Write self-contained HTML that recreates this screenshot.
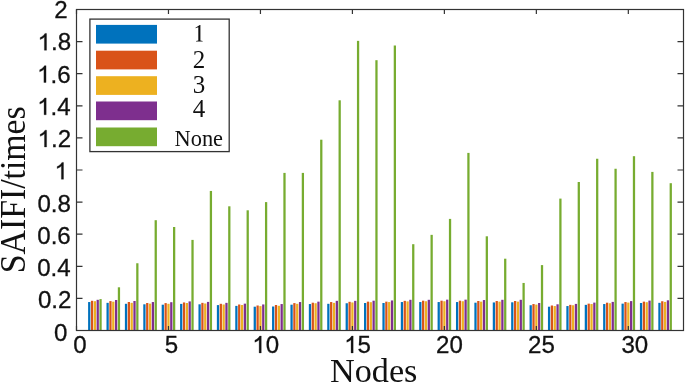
<!DOCTYPE html>
<html><head><meta charset="utf-8"><style>
html,body{margin:0;padding:0;background:#fff;}
body{width:685px;height:384px;overflow:hidden;}
svg{display:block;will-change:transform;}
.sans{font-family:"Liberation Sans",sans-serif;font-size:24.1px;fill:#111;stroke:#111;stroke-width:0.3px;}
.sans path{stroke-width:25.49px;}
.serif{font-family:"Liberation Serif",serif;fill:#111;}
</style></head><body>
<svg width="685" height="384" viewBox="0 0 685 384">
<rect x="0" y="0" width="685" height="384" fill="#fff"/>
<g>
<rect x="88.102" y="302.05" width="2.264" height="28.45" fill="#0072BD"/>
<rect x="90.932" y="300.80" width="2.264" height="29.70" fill="#D95319"/>
<rect x="93.762" y="301.20" width="2.264" height="29.30" fill="#EDB120"/>
<rect x="96.592" y="299.80" width="2.264" height="30.70" fill="#7E2F8E"/>
<rect x="99.422" y="299.10" width="2.264" height="31.40" fill="#77AC30"/>
<rect x="106.496" y="302.85" width="2.264" height="27.65" fill="#0072BD"/>
<rect x="109.326" y="301.10" width="2.264" height="29.40" fill="#D95319"/>
<rect x="112.156" y="301.70" width="2.264" height="28.80" fill="#EDB120"/>
<rect x="114.986" y="300.00" width="2.264" height="30.50" fill="#7E2F8E"/>
<rect x="117.816" y="287.30" width="2.264" height="43.20" fill="#77AC30"/>
<rect x="124.890" y="303.80" width="2.264" height="26.70" fill="#0072BD"/>
<rect x="127.720" y="302.00" width="2.264" height="28.50" fill="#D95319"/>
<rect x="130.550" y="302.85" width="2.264" height="27.65" fill="#EDB120"/>
<rect x="133.380" y="301.00" width="2.264" height="29.50" fill="#7E2F8E"/>
<rect x="136.210" y="263.25" width="2.264" height="67.25" fill="#77AC30"/>
<rect x="143.284" y="304.30" width="2.264" height="26.20" fill="#0072BD"/>
<rect x="146.114" y="303.00" width="2.264" height="27.50" fill="#D95319"/>
<rect x="148.944" y="303.65" width="2.264" height="26.85" fill="#EDB120"/>
<rect x="151.774" y="302.05" width="2.264" height="28.45" fill="#7E2F8E"/>
<rect x="154.603" y="220.20" width="2.264" height="110.30" fill="#77AC30"/>
<rect x="161.678" y="304.70" width="2.264" height="25.80" fill="#0072BD"/>
<rect x="164.508" y="303.10" width="2.264" height="27.40" fill="#D95319"/>
<rect x="167.338" y="303.80" width="2.264" height="26.70" fill="#EDB120"/>
<rect x="170.168" y="302.20" width="2.264" height="28.30" fill="#7E2F8E"/>
<rect x="172.997" y="227.00" width="2.264" height="103.50" fill="#77AC30"/>
<rect x="180.072" y="303.90" width="2.264" height="26.60" fill="#0072BD"/>
<rect x="182.902" y="302.45" width="2.264" height="28.05" fill="#D95319"/>
<rect x="185.732" y="303.00" width="2.264" height="27.50" fill="#EDB120"/>
<rect x="188.562" y="301.40" width="2.264" height="29.10" fill="#7E2F8E"/>
<rect x="191.391" y="239.90" width="2.264" height="90.60" fill="#77AC30"/>
<rect x="198.466" y="304.30" width="2.264" height="26.20" fill="#0072BD"/>
<rect x="201.296" y="302.85" width="2.264" height="27.65" fill="#D95319"/>
<rect x="204.126" y="303.50" width="2.264" height="27.00" fill="#EDB120"/>
<rect x="206.955" y="301.90" width="2.264" height="28.60" fill="#7E2F8E"/>
<rect x="209.785" y="190.95" width="2.264" height="139.55" fill="#77AC30"/>
<rect x="216.860" y="305.10" width="2.264" height="25.40" fill="#0072BD"/>
<rect x="219.690" y="303.80" width="2.264" height="26.70" fill="#D95319"/>
<rect x="222.520" y="304.50" width="2.264" height="26.00" fill="#EDB120"/>
<rect x="225.349" y="302.85" width="2.264" height="27.65" fill="#7E2F8E"/>
<rect x="228.179" y="206.30" width="2.264" height="124.20" fill="#77AC30"/>
<rect x="235.254" y="305.90" width="2.264" height="24.60" fill="#0072BD"/>
<rect x="238.084" y="304.50" width="2.264" height="26.00" fill="#D95319"/>
<rect x="240.914" y="305.00" width="2.264" height="25.50" fill="#EDB120"/>
<rect x="243.743" y="303.65" width="2.264" height="26.85" fill="#7E2F8E"/>
<rect x="246.573" y="210.30" width="2.264" height="120.20" fill="#77AC30"/>
<rect x="253.648" y="306.70" width="2.264" height="23.80" fill="#0072BD"/>
<rect x="256.478" y="305.50" width="2.264" height="25.00" fill="#D95319"/>
<rect x="259.307" y="306.10" width="2.264" height="24.40" fill="#EDB120"/>
<rect x="262.137" y="304.45" width="2.264" height="26.05" fill="#7E2F8E"/>
<rect x="264.967" y="202.10" width="2.264" height="128.40" fill="#77AC30"/>
<rect x="272.042" y="306.50" width="2.264" height="24.00" fill="#0072BD"/>
<rect x="274.872" y="305.00" width="2.264" height="25.50" fill="#D95319"/>
<rect x="277.701" y="305.80" width="2.264" height="24.70" fill="#EDB120"/>
<rect x="280.531" y="304.05" width="2.264" height="26.45" fill="#7E2F8E"/>
<rect x="283.361" y="172.90" width="2.264" height="157.60" fill="#77AC30"/>
<rect x="290.436" y="304.70" width="2.264" height="25.80" fill="#0072BD"/>
<rect x="293.266" y="303.10" width="2.264" height="27.40" fill="#D95319"/>
<rect x="296.095" y="303.80" width="2.264" height="26.70" fill="#EDB120"/>
<rect x="298.925" y="302.05" width="2.264" height="28.45" fill="#7E2F8E"/>
<rect x="301.755" y="172.90" width="2.264" height="157.60" fill="#77AC30"/>
<rect x="308.830" y="304.05" width="2.264" height="26.45" fill="#0072BD"/>
<rect x="311.659" y="302.70" width="2.264" height="27.80" fill="#D95319"/>
<rect x="314.489" y="303.25" width="2.264" height="27.25" fill="#EDB120"/>
<rect x="317.319" y="301.65" width="2.264" height="28.85" fill="#7E2F8E"/>
<rect x="320.149" y="139.70" width="2.264" height="190.80" fill="#77AC30"/>
<rect x="327.224" y="303.80" width="2.264" height="26.70" fill="#0072BD"/>
<rect x="330.053" y="302.05" width="2.264" height="28.45" fill="#D95319"/>
<rect x="332.883" y="302.85" width="2.264" height="27.65" fill="#EDB120"/>
<rect x="335.713" y="300.85" width="2.264" height="29.65" fill="#7E2F8E"/>
<rect x="338.543" y="100.30" width="2.264" height="230.20" fill="#77AC30"/>
<rect x="345.617" y="303.25" width="2.264" height="27.25" fill="#0072BD"/>
<rect x="348.447" y="301.80" width="2.264" height="28.70" fill="#D95319"/>
<rect x="351.277" y="302.45" width="2.264" height="28.05" fill="#EDB120"/>
<rect x="354.107" y="300.85" width="2.264" height="29.65" fill="#7E2F8E"/>
<rect x="356.937" y="40.86" width="2.264" height="289.64" fill="#77AC30"/>
<rect x="364.011" y="303.00" width="2.264" height="27.50" fill="#0072BD"/>
<rect x="366.841" y="301.65" width="2.264" height="28.85" fill="#D95319"/>
<rect x="369.671" y="302.20" width="2.264" height="28.30" fill="#EDB120"/>
<rect x="372.501" y="300.70" width="2.264" height="29.80" fill="#7E2F8E"/>
<rect x="375.331" y="60.20" width="2.264" height="270.30" fill="#77AC30"/>
<rect x="382.405" y="303.00" width="2.264" height="27.50" fill="#0072BD"/>
<rect x="385.235" y="301.65" width="2.264" height="28.85" fill="#D95319"/>
<rect x="388.065" y="302.05" width="2.264" height="28.45" fill="#EDB120"/>
<rect x="390.895" y="300.45" width="2.264" height="30.05" fill="#7E2F8E"/>
<rect x="393.725" y="45.50" width="2.264" height="285.00" fill="#77AC30"/>
<rect x="400.799" y="302.05" width="2.264" height="28.45" fill="#0072BD"/>
<rect x="403.629" y="300.85" width="2.264" height="29.65" fill="#D95319"/>
<rect x="406.459" y="301.40" width="2.264" height="29.10" fill="#EDB120"/>
<rect x="409.289" y="299.80" width="2.264" height="30.70" fill="#7E2F8E"/>
<rect x="412.119" y="244.20" width="2.264" height="86.30" fill="#77AC30"/>
<rect x="419.193" y="302.05" width="2.264" height="28.45" fill="#0072BD"/>
<rect x="422.023" y="300.70" width="2.264" height="29.80" fill="#D95319"/>
<rect x="424.853" y="301.25" width="2.264" height="29.25" fill="#EDB120"/>
<rect x="427.683" y="299.80" width="2.264" height="30.70" fill="#7E2F8E"/>
<rect x="430.513" y="234.85" width="2.264" height="95.65" fill="#77AC30"/>
<rect x="437.587" y="302.05" width="2.264" height="28.45" fill="#0072BD"/>
<rect x="440.417" y="300.70" width="2.264" height="29.80" fill="#D95319"/>
<rect x="443.247" y="301.25" width="2.264" height="29.25" fill="#EDB120"/>
<rect x="446.077" y="299.65" width="2.264" height="30.85" fill="#7E2F8E"/>
<rect x="448.907" y="218.90" width="2.264" height="111.60" fill="#77AC30"/>
<rect x="455.981" y="302.05" width="2.264" height="28.45" fill="#0072BD"/>
<rect x="458.811" y="300.70" width="2.264" height="29.80" fill="#D95319"/>
<rect x="461.641" y="301.25" width="2.264" height="29.25" fill="#EDB120"/>
<rect x="464.471" y="299.65" width="2.264" height="30.85" fill="#7E2F8E"/>
<rect x="467.300" y="152.90" width="2.264" height="177.60" fill="#77AC30"/>
<rect x="474.375" y="302.70" width="2.264" height="27.80" fill="#0072BD"/>
<rect x="477.205" y="301.00" width="2.264" height="29.50" fill="#D95319"/>
<rect x="480.035" y="301.65" width="2.264" height="28.85" fill="#EDB120"/>
<rect x="482.865" y="300.05" width="2.264" height="30.45" fill="#7E2F8E"/>
<rect x="485.694" y="236.30" width="2.264" height="94.20" fill="#77AC30"/>
<rect x="492.769" y="302.45" width="2.264" height="28.05" fill="#0072BD"/>
<rect x="495.599" y="301.00" width="2.264" height="29.50" fill="#D95319"/>
<rect x="498.429" y="301.65" width="2.264" height="28.85" fill="#EDB120"/>
<rect x="501.259" y="299.80" width="2.264" height="30.70" fill="#7E2F8E"/>
<rect x="504.088" y="258.70" width="2.264" height="71.80" fill="#77AC30"/>
<rect x="511.163" y="302.30" width="2.264" height="28.20" fill="#0072BD"/>
<rect x="513.993" y="301.00" width="2.264" height="29.50" fill="#D95319"/>
<rect x="516.823" y="301.65" width="2.264" height="28.85" fill="#EDB120"/>
<rect x="519.652" y="299.80" width="2.264" height="30.70" fill="#7E2F8E"/>
<rect x="522.482" y="282.95" width="2.264" height="47.55" fill="#77AC30"/>
<rect x="529.557" y="305.25" width="2.264" height="25.25" fill="#0072BD"/>
<rect x="532.387" y="304.05" width="2.264" height="26.45" fill="#D95319"/>
<rect x="535.217" y="304.60" width="2.264" height="25.90" fill="#EDB120"/>
<rect x="538.046" y="303.00" width="2.264" height="27.50" fill="#7E2F8E"/>
<rect x="540.876" y="265.10" width="2.264" height="65.40" fill="#77AC30"/>
<rect x="547.951" y="306.70" width="2.264" height="23.80" fill="#0072BD"/>
<rect x="550.781" y="305.50" width="2.264" height="25.00" fill="#D95319"/>
<rect x="553.610" y="306.05" width="2.264" height="24.45" fill="#EDB120"/>
<rect x="556.440" y="304.30" width="2.264" height="26.20" fill="#7E2F8E"/>
<rect x="559.270" y="198.60" width="2.264" height="131.90" fill="#77AC30"/>
<rect x="566.345" y="306.05" width="2.264" height="24.45" fill="#0072BD"/>
<rect x="569.175" y="304.85" width="2.264" height="25.65" fill="#D95319"/>
<rect x="572.004" y="305.25" width="2.264" height="25.25" fill="#EDB120"/>
<rect x="574.834" y="303.90" width="2.264" height="26.60" fill="#7E2F8E"/>
<rect x="577.664" y="182.00" width="2.264" height="148.50" fill="#77AC30"/>
<rect x="584.739" y="304.85" width="2.264" height="25.65" fill="#0072BD"/>
<rect x="587.569" y="303.65" width="2.264" height="26.85" fill="#D95319"/>
<rect x="590.398" y="304.05" width="2.264" height="26.45" fill="#EDB120"/>
<rect x="593.228" y="302.60" width="2.264" height="27.90" fill="#7E2F8E"/>
<rect x="596.058" y="158.75" width="2.264" height="171.75" fill="#77AC30"/>
<rect x="603.133" y="304.05" width="2.264" height="26.45" fill="#0072BD"/>
<rect x="605.962" y="302.70" width="2.264" height="27.80" fill="#D95319"/>
<rect x="608.792" y="303.25" width="2.264" height="27.25" fill="#EDB120"/>
<rect x="611.622" y="301.90" width="2.264" height="28.60" fill="#7E2F8E"/>
<rect x="614.452" y="168.75" width="2.264" height="161.75" fill="#77AC30"/>
<rect x="621.527" y="303.65" width="2.264" height="26.85" fill="#0072BD"/>
<rect x="624.356" y="302.05" width="2.264" height="28.45" fill="#D95319"/>
<rect x="627.186" y="302.60" width="2.264" height="27.90" fill="#EDB120"/>
<rect x="630.016" y="301.10" width="2.264" height="29.40" fill="#7E2F8E"/>
<rect x="632.846" y="156.20" width="2.264" height="174.30" fill="#77AC30"/>
<rect x="639.921" y="303.00" width="2.264" height="27.50" fill="#0072BD"/>
<rect x="642.750" y="301.65" width="2.264" height="28.85" fill="#D95319"/>
<rect x="645.580" y="302.20" width="2.264" height="28.30" fill="#EDB120"/>
<rect x="648.410" y="300.60" width="2.264" height="29.90" fill="#7E2F8E"/>
<rect x="651.240" y="171.90" width="2.264" height="158.60" fill="#77AC30"/>
<rect x="658.314" y="302.85" width="2.264" height="27.65" fill="#0072BD"/>
<rect x="661.144" y="301.25" width="2.264" height="29.25" fill="#D95319"/>
<rect x="663.974" y="301.90" width="2.264" height="28.60" fill="#EDB120"/>
<rect x="666.804" y="300.30" width="2.264" height="30.20" fill="#7E2F8E"/>
<rect x="669.634" y="183.20" width="2.264" height="147.30" fill="#77AC30"/>
</g>
<g stroke="#333" stroke-width="1.2" fill="none">
<path d="M76.5 330.50H82.5M677.5 330.50H683.5M76.5 298.40H82.5M677.5 298.40H683.5M76.5 266.30H82.5M677.5 266.30H683.5M76.5 234.20H82.5M677.5 234.20H683.5M76.5 202.10H82.5M677.5 202.10H683.5M76.5 170.00H82.5M677.5 170.00H683.5M76.5 137.90H82.5M677.5 137.90H683.5M76.5 105.80H82.5M677.5 105.80H683.5M76.5 73.70H82.5M677.5 73.70H683.5M76.5 41.60H82.5M677.5 41.60H683.5M76.5 9.50H82.5M677.5 9.50H683.5M76.50 330.5V326M76.50 9.5V14M168.47 330.5V326M168.47 9.5V14M260.44 330.5V326M260.44 9.5V14M352.41 330.5V326M352.41 9.5V14M444.38 330.5V326M444.38 9.5V14M536.35 330.5V326M536.35 9.5V14M628.32 330.5V326M628.32 9.5V14"/>
<rect x="76.5" y="9.5" width="607" height="321"/>
</g>
<g class="sans">
<text x="54.309" y="18.0">2</text>
<path transform="translate(37.545 50.25) scale(0.011768 -0.011768)" d="M763 0L583 0L583 1119C540 1079 483 1039 413 999C343 959 280 929 223 908L223 1078C320 1123 404 1176 476 1240C548 1303 599 1366 629 1430L763 1430Z"/>
<text x="50.948" y="50.25">.</text>
<text x="57.644" y="50.25">8</text>
<path transform="translate(37.057 82.5) scale(0.011768 -0.011768)" d="M763 0L583 0L583 1119C540 1079 483 1039 413 999C343 959 280 929 223 908L223 1078C320 1123 404 1176 476 1240C548 1303 599 1366 629 1430L763 1430Z"/>
<text x="50.460" y="82.5">.</text>
<text x="57.156" y="82.5">6</text>
<path transform="translate(37.204 114.75) scale(0.011768 -0.011768)" d="M763 0L583 0L583 1119C540 1079 483 1039 413 999C343 959 280 929 223 908L223 1078C320 1123 404 1176 476 1240C548 1303 599 1366 629 1430L763 1430Z"/>
<text x="50.607" y="114.75">.</text>
<text x="57.303" y="114.75">4</text>
<path transform="translate(37.610 147.0) scale(0.011768 -0.011768)" d="M763 0L583 0L583 1119C540 1079 483 1039 413 999C343 959 280 929 223 908L223 1078C320 1123 404 1176 476 1240C548 1303 599 1366 629 1430L763 1430Z"/>
<text x="51.013" y="147.0">.</text>
<text x="57.709" y="147.0">2</text>
<path transform="translate(54.521 179.25) scale(0.011768 -0.011768)" d="M763 0L583 0L583 1119C540 1079 483 1039 413 999C343 959 280 929 223 908L223 1078C320 1123 404 1176 476 1240C548 1303 599 1366 629 1430L763 1430Z"/>
<text x="37.445" y="211.5">0</text>
<text x="50.848" y="211.5">.</text>
<text x="57.544" y="211.5">8</text>
<text x="37.257" y="243.75">0</text>
<text x="50.660" y="243.75">.</text>
<text x="57.356" y="243.75">6</text>
<text x="37.204" y="276.0">0</text>
<text x="50.607" y="276.0">.</text>
<text x="57.303" y="276.0">4</text>
<text x="37.910" y="308.25">0</text>
<text x="51.313" y="308.25">.</text>
<text x="58.009" y="308.25">2</text>
<text x="53.938" y="340.5">0</text>
<text x="73.148" y="352.9">0</text>
<text x="164.722" y="352.9">5</text>
<path transform="translate(252.280 352.9) scale(0.011768 -0.011768)" d="M763 0L583 0L583 1119C540 1079 483 1039 413 999C343 959 280 929 223 908L223 1078C320 1123 404 1176 476 1240C548 1303 599 1366 629 1430L763 1430Z"/>
<text x="265.684" y="352.9">0</text>
<path transform="translate(344.191 352.9) scale(0.011768 -0.011768)" d="M763 0L583 0L583 1119C540 1079 483 1039 413 999C343 959 280 929 223 908L223 1078C320 1123 404 1176 476 1240C548 1303 599 1366 629 1430L763 1430Z"/>
<text x="357.594" y="352.9">5</text>
<text x="436.061" y="352.9">2</text>
<text x="449.465" y="352.9">0</text>
<text x="528.047" y="352.9">2</text>
<text x="541.450" y="352.9">5</text>
<text x="621.408" y="352.9">3</text>
<text x="634.812" y="352.9">0</text>
</g>
<text class="serif" font-size="33.8" transform="translate(24.8,273.3) rotate(-90) scale(1,1.04)">SAIFI/times</text>
<text class="serif" font-size="34.2" x="330" y="381.7">Nodes</text>
<rect x="89.9" y="19.1" width="139.3" height="132.5" fill="#fff" stroke="#333" stroke-width="1.3"/>
<rect x="96" y="24.9" width="61" height="18.7" fill="#0072BD"/>
<rect x="96" y="50.7" width="61" height="18.7" fill="#D95319"/>
<rect x="96" y="76.2" width="61" height="18.7" fill="#EDB120"/>
<rect x="96" y="101.5" width="61" height="18.7" fill="#7E2F8E"/>
<rect x="96" y="127.5" width="61" height="18.7" fill="#77AC30"/>
<g class="serif" font-size="25" text-anchor="middle">
<path transform="translate(192.75 41.6) scale(0.012207 -0.012207)" d="M627 80L811 53L811 0L270 0L270 53L455 80L455 1174L225 1090L225 1140L575 1352L627 1352Z"/>
<text x="199" y="68.2">2</text>
<text x="199" y="92.5">3</text>
<text x="199" y="116.5">4</text>
</g>
<text class="serif" font-size="22.4" x="174.55" y="145.8">None</text>
</svg>
</body></html>
